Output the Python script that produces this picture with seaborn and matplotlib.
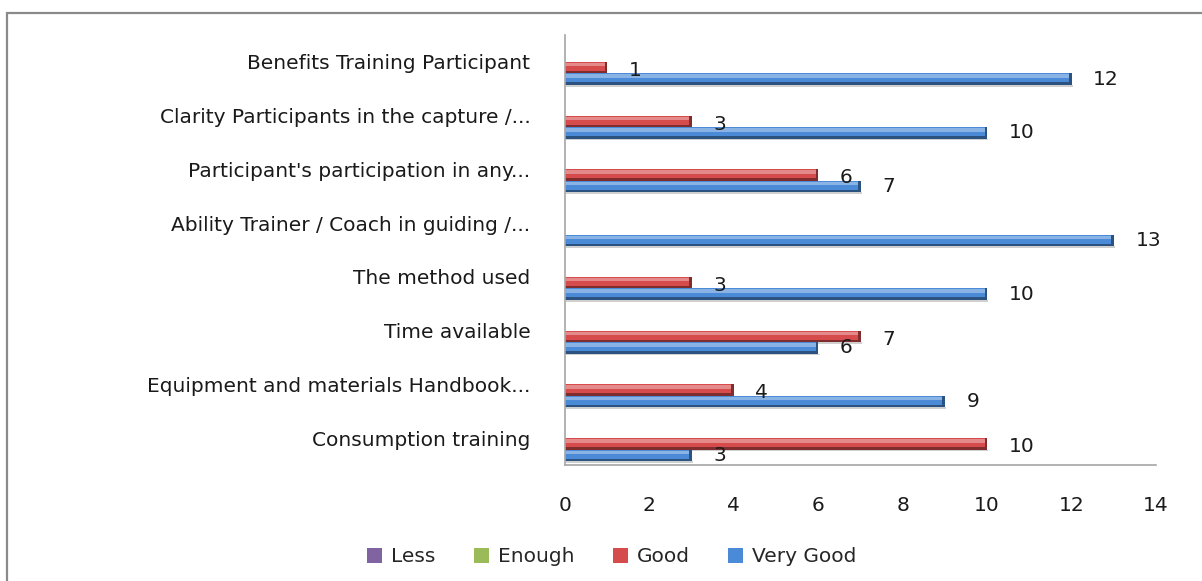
import matplotlib
matplotlib.use("Agg")
import matplotlib.pyplot as plt
import seaborn as sns
import pandas as pd
import numpy as np
from matplotlib.patches import Rectangle, Patch
from matplotlib.colors import to_rgb

categories = [
    "Benefits Training Participant",
    "Clarity Participants in the capture /...",
    "Participant's participation in any...",
    "Ability Trainer / Coach in guiding /...",
    "The method used",
    "Time available",
    "Equipment and materials Handbook...",
    "Consumption training",
]
series = ["Less", "Enough", "Good", "Very Good"]
less = [0, 0, 0, 0, 0, 0, 0, 0]
enough = [0, 0, 0, 0, 0, 0, 0, 0]
good = [1, 3, 6, 0, 3, 7, 4, 10]
very_good = [12, 10, 7, 13, 10, 6, 9, 3]
x_ticks = [0, 2, 4, 6, 8, 10, 12, 14]

colors = {"Less": "#8064A2", "Enough": "#9BBB59", "Good": "#D64B4B", "Very Good": "#4A8AD6"}

rows = []
for name, vals in zip(series, [less, enough, good, very_good]):
    for c, v in zip(categories, vals):
        rows.append({"category": c, "series": name, "value": v})
df = pd.DataFrame(rows)

sns.set_style("white")
plt.rcParams["font.family"] = ["DejaVu Sans"]
FS = 14.5

fig = plt.figure(figsize=(12.02, 5.81), dpi=100)
ax = fig.add_axes([565 / 1202, 1 - 465 / 581, (1156 - 565) / 1202, (465 - 35) / 581])

sns.barplot(data=df, y="category", x="value", hue="series", order=categories,
            hue_order=series, palette=colors, orient="h", width=0.86,
            ax=ax, legend=False, saturation=1, linewidth=0)

# pseudo-3D shading on bars
for p in list(ax.patches):
    w = p.get_width()
    if w <= 0:
        continue
    y0, h, x0 = p.get_y(), p.get_height(), p.get_x()
    base = np.array(to_rgb(p.get_facecolor()))
    light = base + (1 - base) * 0.35
    dark = base * 0.6
    ax.add_patch(Rectangle((x0 + 0.03, y0 + h * 1.0), w, h * 0.15, color="#d0d0d0", lw=0, zorder=p.get_zorder() - 0.1))
    ax.add_patch(Rectangle((x0, y0 + h * 0.08), w, h * 0.3, color=light, lw=0, zorder=p.get_zorder() + 0.1))
    ax.add_patch(Rectangle((x0, y0 + h * 0.78), w, h * 0.22, color=dark, lw=0, zorder=p.get_zorder() + 0.1))
    ax.add_patch(Rectangle((x0 + w - 0.06, y0), 0.06, h, color=dark, lw=0, zorder=p.get_zorder() + 0.2))

# data labels
gi = series.index("Good")
vi = series.index("Very Good")
bar_h = 0.86 / len(series)
for i, c in enumerate(categories):
    for s_idx, vals, dy in [(gi, good, -2), (vi, very_good, 0)]:
        v = vals[i]
        if v == 0:
            continue
        yc = i - 0.43 + bar_h * (s_idx + 0.5)
        ax.annotate(str(v), xy=(v, yc), xytext=(15.5, dy), textcoords="offset points",
                    ha="left", va="center", fontsize=FS, color="#1a1a1a")

ax.set_xlim(0, 14)
ax.set_xticks(x_ticks)
ax.set_xticklabels([str(t) for t in x_ticks])
ax.set_xlabel("")
ax.set_ylabel("")
ax.tick_params(axis="y", length=0, pad=25, labelsize=FS, labelcolor="#1a1a1a")
ax.tick_params(axis="x", length=0, pad=22, labelsize=FS, labelcolor="#1a1a1a")
for side in ["top", "right"]:
    ax.spines[side].set_visible(False)
for side in ["left", "bottom"]:
    ax.spines[side].set_color("#a6a6a6")
    ax.spines[side].set_linewidth(1.2)

handles = [Patch(facecolor=colors[s], edgecolor="none") for s in series]
fig.legend(handles, series, loc="center", bbox_to_anchor=(612 / 1202, 1 - 557 / 581),
           ncol=4, frameon=False, fontsize=FS, handlelength=0.75, handleheight=0.75,
           handletextpad=0.45, columnspacing=1.9)

fig.patches.append(Rectangle((7 / 1202, -0.1), 2, 1 - 13 / 581 + 0.1, transform=fig.transFigure,
                             fill=False, edgecolor="#8a8a8a", linewidth=1.6))

fig.savefig("out.png", dpi=100)
